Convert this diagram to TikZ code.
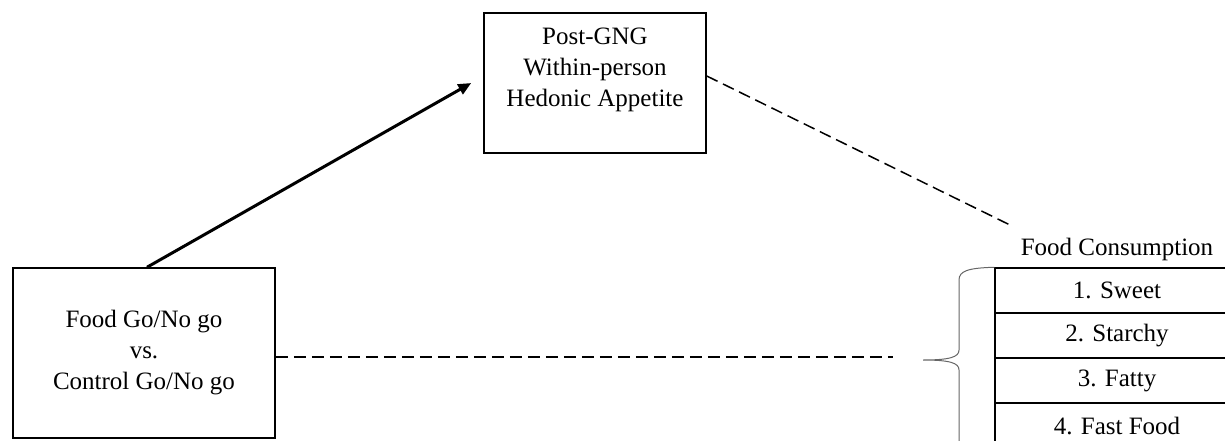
\documentclass[tikz,border=0pt]{standalone}
\usepackage{fontspec}
\setmainfont{Liberation Serif}
\usetikzlibrary{arrows.meta}
\tikzset{box/.style={draw,line width=1.5pt,align=center,inner sep=0pt,
    font=\fontsize{25}{31}\selectfont},
  rowbox/.style={draw,line width=1.5pt,minimum width=244pt,minimum height=45pt,
    inner sep=0pt,font=\fontsize{25}{31}\selectfont},
  arrow/.style={-{Triangle[length=13pt,width=11pt]},line width=3pt},
  dashline/.style={line width=1.5pt,dash pattern=on 12pt off 6pt}}

\begin{document}
\begin{tikzpicture}[x=1pt,y=-1pt]
  \path[use as bounding box] (0,0) rectangle (1225,441);
  \clip (0,0) rectangle (1225,441);
  \node[box,minimum width=262pt,minimum height=170pt] (food) at (144,353)
    {Food Go/No go\\vs.\\Control Go/No go};
  \node[box,minimum width=222pt,minimum height=140pt] (hedonic) at (595,83)
    {Post-GNG\\Within-person\\Hedonic Appetite\\\mbox{}};
  \node[font=\fontsize{25}{31}\selectfont] (title) at (1117,249) {Food Consumption};
  \node[rowbox] (sweet) at (1117,290.5) {1. Sweet};
  \node[rowbox] (starchy) at (1117,335.5) {2. Starchy};
  \node[rowbox] (fatty) at (1117,380.5) {3. Fatty};
  \node[rowbox] (fastfood) at (1117,425.5) {4. Fast Food};
  \coordinate (diagend) at (1010,225);
  \coordinate (dashend) at (893,357);
  \coordinate (bracetip) at (923,360);
  \draw[arrow] ([xshift=3pt]food.north) -- ([xshift=-12pt]hedonic.west);
  \draw[dashline] ([yshift=7pt]hedonic.east) -- (diagend);
  \draw[dashline] (food.east |- dashend) -- (dashend);
  % brace
  \draw[gray!80!black,line width=1pt] (sweet.north west)
    .. controls (968,268) and (959,271) .. (959,280) -- (959,350)
    .. controls (959,357) and (950,360) .. (bracetip)
    .. controls (950,360) and (959,363) .. (959,370) -- (959,445);
\end{tikzpicture}
\end{document}
